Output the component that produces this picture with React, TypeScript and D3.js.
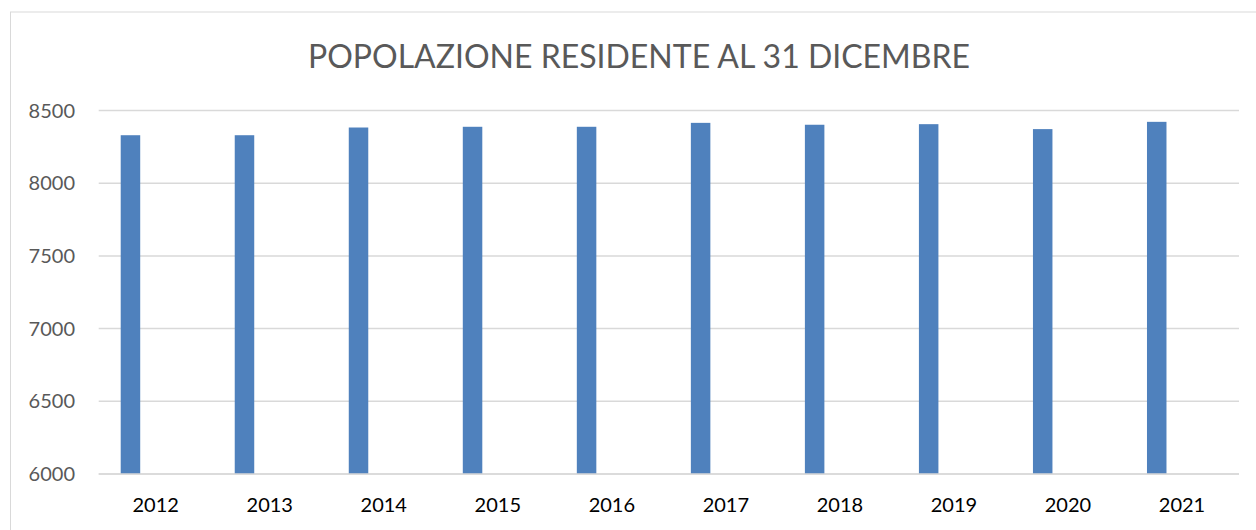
import React from 'react';
import * as d3 from 'd3';

const years = ['2012', '2013', '2014', '2015', '2016', '2017', '2018', '2019', '2020', '2021'];
const population = [8330, 8330, 8383, 8388, 8388, 8415, 8402, 8406, 8372, 8422];
const yTicks = [6000, 6500, 7000, 7500, 8000, 8500];
const title = 'POPOLAZIONE RESIDENTE AL 31 DICEMBRE';

const width = 1256;
const height = 530;
const margin = { top: 110.5, right: 17, bottom: 56, left: 98.7 };
const font = 'Lato, "Open Sans", sans-serif';

const App: React.FC = () => {
    const x = d3.scaleBand<string>()
        .domain(years)
        .range([margin.left, width - margin.right])
        .padding(0);

    const y = d3.scaleLinear()
        .domain([6000, 8500])
        .range([height - margin.bottom, margin.top]);

    const bw = x.bandwidth();
    // bar sits on the left part of each category, like an Excel clustered column
    const barOffset = bw * 0.193;
    const barWidth = bw * 0.171;

    return (
        <svg width={width} height={height} style={{ position: 'absolute', left: 0, top: 0, background: '#fff' }}>
            <rect x={10.5} y={12} width={width} height={height} fill="#fff" stroke="#d9d9d9" strokeWidth={1} />
            <text x={639} y={68} textAnchor="middle" fontFamily={font} fontSize={32} fill="#595959">
                {title}
            </text>
            {yTicks.map(t => (
                <g key={t}>
                    <line x1={margin.left} x2={width - margin.right} y1={y(t)} y2={y(t)} stroke="#d9d9d9" strokeWidth={1.5} />
                    <text x={75} y={y(t)} dy="0.35em" textAnchor="end" fontFamily={font} fontSize={20} fill="#595959">
                        {t}
                    </text>
                </g>
            ))}
            {years.map((yr, i) => (
                <rect
                    key={yr}
                    x={(x(yr) as number) + barOffset}
                    y={y(population[i])}
                    width={barWidth}
                    height={y(6000) - y(population[i])}
                    fill="#4F81BD"
                />
            ))}
            <line x1={margin.left} x2={width - margin.right} y1={y(6000)} y2={y(6000)} stroke="#d9d9d9" strokeWidth={1.5} />
            {years.map(yr => (
                <text key={yr} x={(x(yr) as number) + bw / 2} y={505} dy="0.35em" textAnchor="middle" fontFamily={font} fontSize={20} fill="#000">
                    {yr}
                </text>
            ))}
        </svg>
    );
};

export default App;
